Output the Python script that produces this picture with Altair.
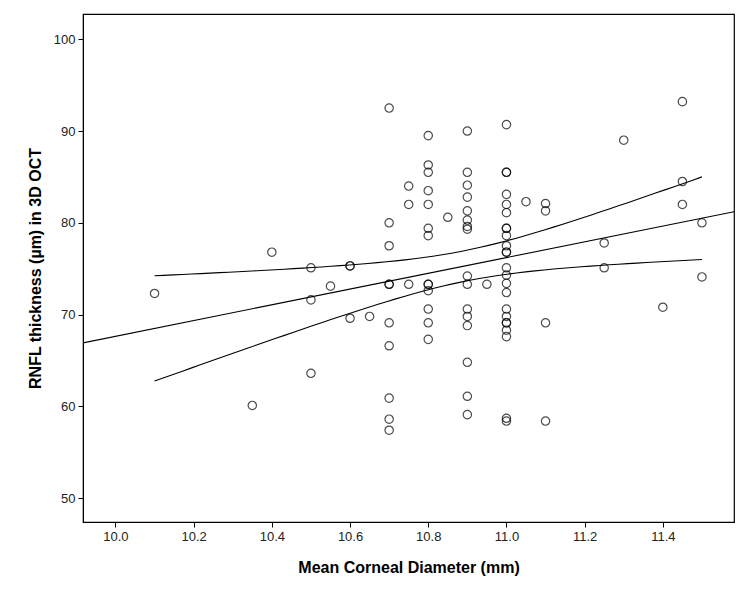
import altair as alt
import numpy as np
import pandas as pd

# Mean corneal diameter (mm) and RNFL thickness (µm)
diameter = (
    [10.10, 10.35, 10.40]
    + [10.50] * 3 + [10.55] + [10.60] * 3 + [10.65]
    + [10.70] * 10 + [10.75] * 3 + [10.80] * 13 + [10.85]
    + [10.90] * 16 + [10.95] + [11.00] * 24 + [11.05]
    + [11.10] * 4 + [11.25] * 2 + [11.30] + [11.40] + [11.45] * 3 + [11.50] * 2
)
rnfl = [
    72.3, 60.1, 76.8,
    75.1, 71.6, 63.6,
    73.1,
    75.3, 75.3, 69.6,
    69.8,
    92.5, 80.0, 77.5, 73.3, 73.3, 69.1, 66.6, 60.9, 58.6, 57.4,
    84.0, 82.0, 73.3,
    89.5, 86.3, 85.5, 83.5, 82.0, 79.4, 78.6, 73.3, 73.3, 72.6, 70.6, 69.1, 67.3,
    80.6,
    90.0, 85.5, 84.1, 82.8, 81.3, 80.3, 79.6, 79.3, 74.2, 73.3, 70.6, 69.8, 68.8, 64.8, 61.1, 59.1,
    73.3,
    90.7, 85.5, 85.5, 83.1, 82.0, 81.1, 79.4, 79.4, 78.6, 77.5, 76.8, 76.8, 75.1, 74.3,
    73.4, 72.4, 70.6, 69.8, 69.1, 69.1, 68.3, 67.6, 58.7, 58.4,
    82.3,
    82.1, 81.3, 69.1, 58.4,
    77.8, 75.1,
    89.0,
    70.8,
    93.2, 84.5, 82.0,
    80.0, 74.1,
]

x_ticks = [10.0, 10.2, 10.4, 10.6, 10.8, 11.0, 11.2, 11.4]
y_ticks = [50, 60, 70, 80, 90, 100]
x_domain = [9.917, 11.582]
y_domain = [47.4, 102.75]

pts = pd.DataFrame({"d": diameter, "r": rnfl})

# Linear fit and 95% confidence interval of the mean, computed from the data
xa = np.array(diameter)
ya = np.array(rnfl)
n = len(xa)
b, a = np.polyfit(xa, ya, 1)
resid = ya - (a + b * xa)
s = np.sqrt(np.sum(resid ** 2) / (n - 2))
xbar = xa.mean()
sxx = np.sum((xa - xbar) ** 2)
t = 1.984

fit_df = pd.DataFrame({"d": x_domain, "r": [a + b * v for v in x_domain]})
grid = np.linspace(xa.min(), xa.max(), 60)
half = t * s * np.sqrt(1.0 / n + (grid - xbar) ** 2 / sxx)
ci_df = pd.concat([
    pd.DataFrame({"d": grid, "r": a + b * grid + half, "band": "upper"}),
    pd.DataFrame({"d": grid, "r": a + b * grid - half, "band": "lower"}),
])

xs = alt.X("d:Q", scale=alt.Scale(domain=x_domain, nice=False, zero=False),
           axis=alt.Axis(values=x_ticks, format=".1f", title="Mean Corneal Diameter (mm)",
                         titlePadding=16))
ys = alt.Y("r:Q", scale=alt.Scale(domain=y_domain, nice=False, zero=False),
           axis=alt.Axis(values=y_ticks, title="RNFL thickness (µm) in 3D OCT",
                         titlePadding=10))

points = alt.Chart(pts).mark_point(
    shape="circle", filled=False, size=70, color="black", strokeWidth=1.2, clip=True
).encode(x=xs, y=ys)

fit = alt.Chart(fit_df).mark_line(color="black", strokeWidth=1.1, clip=True).encode(x=xs, y=ys)

ci = alt.Chart(ci_df).mark_line(color="black", strokeWidth=1.1, clip=True).encode(
    x=xs, y=ys, detail="band:N"
)

chart = alt.layer(points, fit, ci).properties(
    width=651,
    height=508,
    autosize=alt.AutoSizeParams(type="none"),
    padding={"left": 75, "top": 6, "right": 6, "bottom": 70},
).configure_view(
    stroke="black", strokeWidth=1.2
).configure_axis(
    grid=False,
    domainColor="black",
    tickColor="black",
    tickSize=5,
    labelFont="Liberation Sans",
    labelFontSize=13,
    labelColor="#222222",
    titleFont="Liberation Sans",
    titleFontSize=16,
    titleFontWeight="bold",
    titleColor="black",
    labelPadding=3,
)

chart.save("out.html", embed_options={"renderer": "svg", "actions": False})
